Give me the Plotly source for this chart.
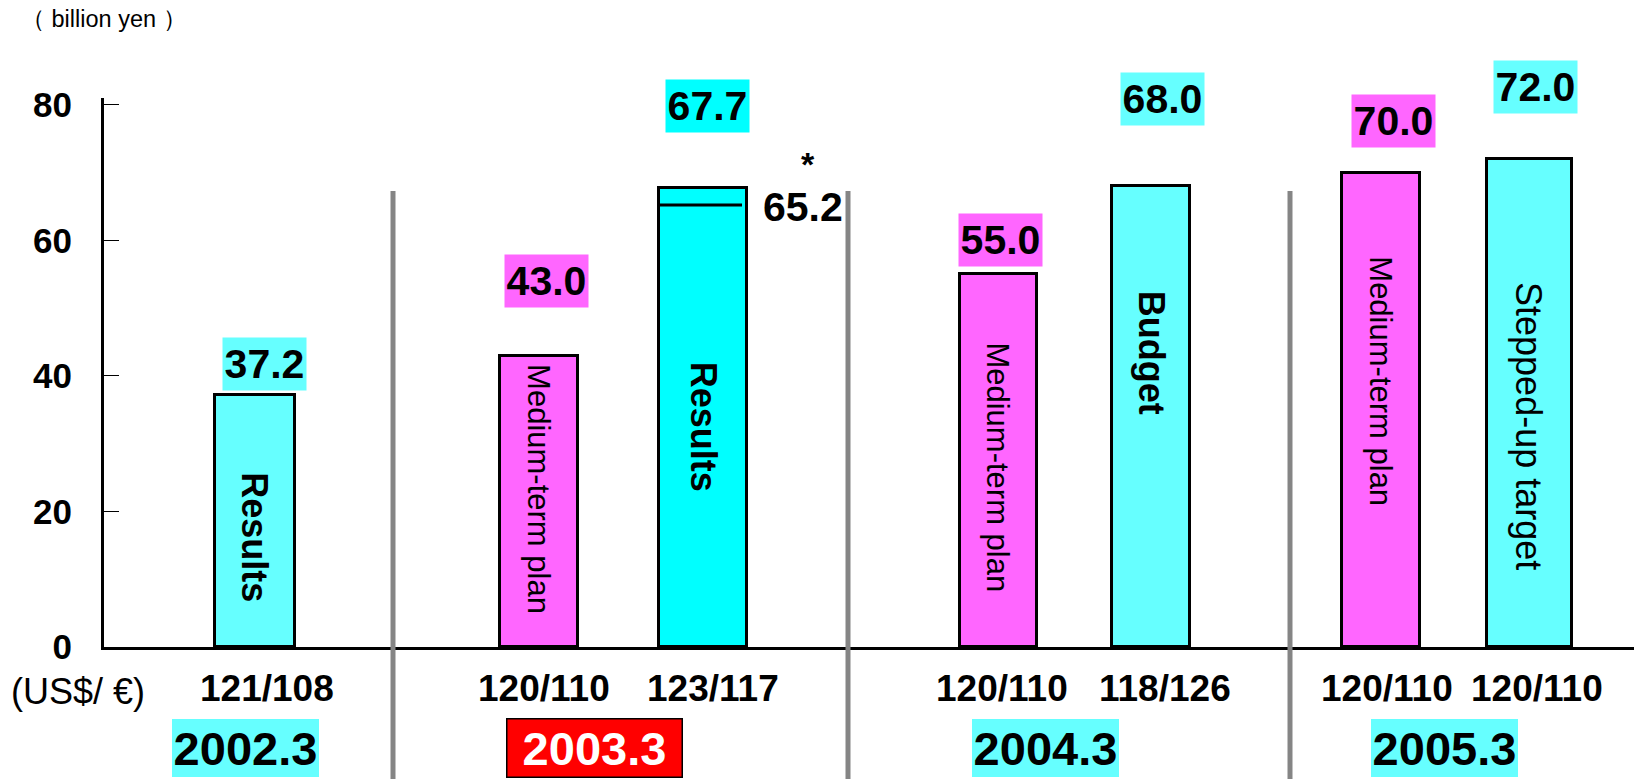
import plotly.graph_objects as go

# ---- data -------------------------------------------------------------
periods = ["2002.3", "2003.3", "2003.3", "2004.3", "2004.3", "2005.3", "2005.3"]
kinds = ["Results", "Medium-term plan", "Results", "Medium-term plan",
         "Budget", "Medium-term plan", "Stepped-up target"]
values = [37.2, 43.0, 67.7, 55.0, 68.0, 70.0, 72.0]
fx_rates = ["121/108", "120/110", "123/117", "120/110", "118/126", "120/110", "120/110"]
years = ["2002.3", "2003.3", "2004.3", "2005.3"]
adjusted_value = 65.2          # figure marked with * for the 2003.3 results
y_ticks = [0, 20, 40, 60, 80]

# ---- layout constants --------------------------------------------------
W, H = 1634, 779
ML, MR, MT, MB = 104, 0, 98, 132
X_RANGE = [0, 15.30]
Y_RANGE = [0, 81]

bar_x = [1.51, 4.35, 5.99, 8.94, 10.47, 12.77, 14.25]
bar_w = [0.80, 0.78, 0.88, 0.77, 0.78, 0.78, 0.85]
divider_x = [2.89, 7.44, 11.86]
year_x = [1.415, 4.90, 9.41, 13.405]

LIGHT_CYAN = "#66FFFF"
CYAN = "#00FFFF"
MAGENTA = "#FF66FF"
kind_color = {"Results": LIGHT_CYAN, "Budget": LIGHT_CYAN,
              "Stepped-up target": LIGHT_CYAN, "Medium-term plan": MAGENTA}
bar_colors = [kind_color[k] for k in kinds]
bar_colors[2] = CYAN            # actual 2003.3 results highlighted
label_bg = list(bar_colors)

label_gap = [4.55, 11.0, 12.1, 5.0, 12.8, 7.6, 10.6]        # value-label lift above bar
label_dx = [0.09, 0.075, 0.045, 0.02, 0.11, 0.125, 0.06]
rate_dx = [0.12, 0.05, 0.10, 0.04, 0.14, 0.06, 0.08]
inner_y = [16.2, 23.3, 32.5, 26.5, 43.4, 39.2, 32.6]
bold_kinds = {"Results", "Budget"}
inner_size = {"Results": 36, "Budget": 36, "Medium-term plan": 31, "Stepped-up target": 36}

FONT = "Liberation Sans, Arial, sans-serif"


def xp(v):
    """x data value -> paper coordinate"""
    return (v - X_RANGE[0]) / (X_RANGE[1] - X_RANGE[0])


def yp(v):
    """y data value -> paper coordinate"""
    return (v - Y_RANGE[0]) / (Y_RANGE[1] - Y_RANGE[0])


def xp_px(px):
    """page pixel column -> paper coordinate"""
    return (px - ML) / (W - ML - MR)


def yp_px(px):
    """page pixel row -> paper coordinate"""
    return (H - MB - px) / (H - MB - MT)


fig = go.Figure()

fig.add_trace(go.Bar(
    x=bar_x, y=values, width=bar_w,
    marker=dict(color=bar_colors, line=dict(color="black", width=3)),
    hoverinfo="skip", showlegend=False,
))

# line marking the adjusted figure inside the 2003.3 results bar
fig.add_trace(go.Scatter(
    x=[bar_x[2] - bar_w[2] / 2, bar_x[2] + bar_w[2] / 2 - 0.05],
    y=[adjusted_value, adjusted_value],
    mode="lines", line=dict(color="black", width=3),
    hoverinfo="skip", showlegend=False,
))

annotations = []

# value labels above bars
for i, v in enumerate(values):
    annotations.append(dict(
        x=bar_x[i] + label_dx[i], y=yp(v + label_gap[i]), xref="x", yref="paper",
        text=f"<b>{v:.1f}</b>", showarrow=False,
        font=dict(family=FONT, size=41, color="black"),
        bgcolor=label_bg[i], width=83, height=52, borderpad=0,
        xanchor="center", yanchor="middle",
    ))

# rotated descriptions inside bars
for i, k in enumerate(kinds):
    txt = f"<b>{k}</b>" if k in bold_kinds else k
    annotations.append(dict(
        x=bar_x[i], y=inner_y[i], xref="x", yref="y",
        text=txt, textangle=90, showarrow=False,
        xanchor="center", yanchor="middle",
        font=dict(family=FONT, size=inner_size[k], color="black"),
    ))

# exchange-rate assumptions under each bar
for i, r in enumerate(fx_rates):
    annotations.append(dict(
        x=bar_x[i] + rate_dx[i], y=yp_px(688), xref="x", yref="paper",
        text=f"<b>{r}</b>", showarrow=False,
        xanchor="center", yanchor="middle",
        font=dict(family=FONT, size=37, color="black"),
    ))

# fiscal-year labels
for j, yr in enumerate(years):
    highlight = yr == "2003.3"
    annotations.append(dict(
        x=year_x[j], y=yp_px(748), xref="x", yref="paper",
        text=f"<b>{yr}</b>", showarrow=False,
        xanchor="center", yanchor="middle",
        font=dict(family=FONT, size=47, color="white" if highlight else "black"),
        bgcolor="#FF0000" if highlight else LIGHT_CYAN,
        bordercolor="black" if highlight else "rgba(0,0,0,0)",
        borderwidth=1.5 if highlight else 0,
        width=174 if highlight else 147, height=57 if highlight else 58, borderpad=0,
    ))

# adjusted results figure, with its asterisk just above
annotations.append(dict(
    x=6.99, y=adjusted_value, xref="x", yref="y", yshift=-2,
    text="<b>65.2</b>", showarrow=False, xanchor="center", yanchor="middle",
    font=dict(family=FONT, size=41, color="black"),
))
annotations.append(dict(
    x=7.04, y=adjusted_value, xref="x", yref="y", yshift=41,
    text="<b>*</b>", showarrow=False, xanchor="center", yanchor="middle",
    font=dict(family=FONT, size=34, color="black"),
))

# unit and currency captions
annotations.append(dict(
    x=xp_px(19), y=yp_px(19), xref="paper", yref="paper",
    xanchor="left", yanchor="middle",
    text="（ billion yen ）", showarrow=False,
    font=dict(family=FONT, size=23.5, color="black"),
))
annotations.append(dict(
    x=xp_px(9), y=yp_px(691), xref="paper", yref="paper",
    xanchor="left", yanchor="middle",
    text="(US$/ €)", showarrow=False,
    font=dict(family=FONT, size=36, color="black"),
))

# grey dividers between fiscal years
shapes = [dict(
    type="line", xref="paper", yref="paper",
    x0=xp(dx), x1=xp(dx), y0=yp_px(H), y1=yp_px(191),
    line=dict(color="#858585", width=5), layer="above",
) for dx in divider_x]

fig.update_layout(
    width=W, height=H,
    margin=dict(l=ML, r=MR, t=MT, b=MB, pad=0),
    paper_bgcolor="white", plot_bgcolor="white",
    font=dict(family=FONT, color="black"),
    bargap=0,
    xaxis=dict(
        range=X_RANGE, showgrid=False, zeroline=False, showticklabels=False,
        ticks="", showline=True, linecolor="black", linewidth=3, fixedrange=True,
    ),
    yaxis=dict(
        range=Y_RANGE, tickvals=y_ticks, ticktext=[f"<b>{t}</b>" for t in y_ticks],
        tickfont=dict(family=FONT, size=35, color="black"),
        ticks="inside", ticklen=15, tickwidth=1, tickcolor="black",
        ticklabelstandoff=22,
        showgrid=False, zeroline=False, showline=True, linecolor="black",
        linewidth=3, fixedrange=True,
    ),
    annotations=annotations,
    shapes=shapes,
)

fig.write_html("out.html")
